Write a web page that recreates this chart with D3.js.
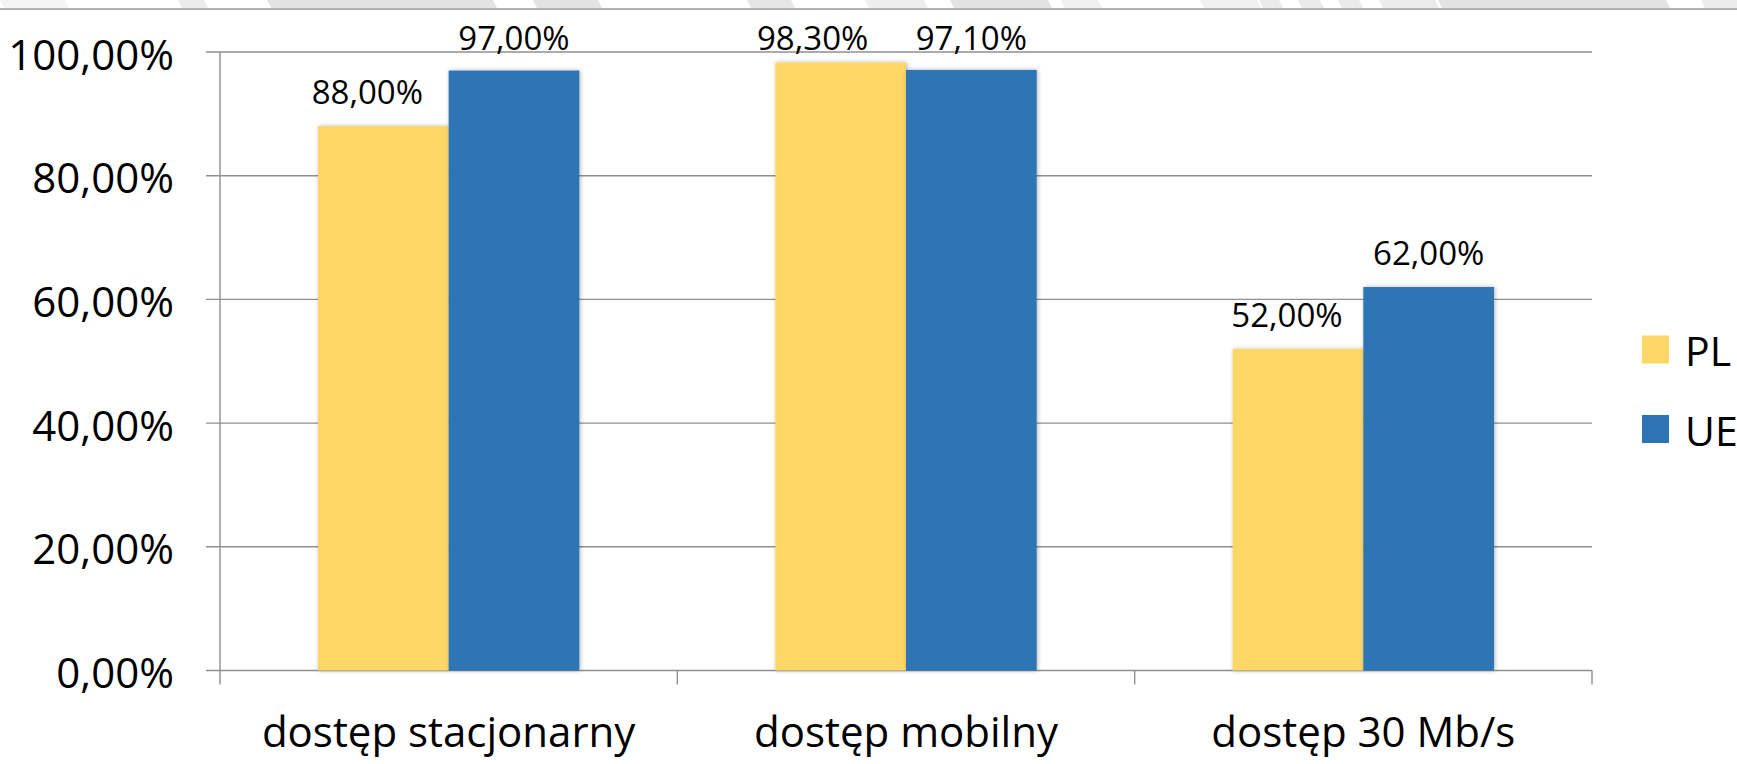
<!DOCTYPE html>
<html>
<head>
<meta charset="utf-8">
<script src="https://cdn.jsdelivr.net/npm/d3@7"></script>
<style>
  html, body { margin: 0; padding: 0; background: #fff; }
  svg { display: block; font-family: "Open Sans", "Noto Sans", sans-serif; }
</style>
</head>
<body>
<svg id="chart" width="1737" height="764"></svg>
<script>
// chart data
const categories = ['dostęp stacjonarny', 'dostęp mobilny', 'dostęp 30 Mb/s'];
const seriesNames = ['PL', 'UE'];
const plValues = [0.88, 0.983, 0.52];
const ueValues = [0.97, 0.971, 0.62];
const yTicks = [0, 0.2, 0.4, 0.6, 0.8, 1.0];

const colors = {PL: '#FDD766', UE: '#2E74B5'};
const gridColor = '#8f8f8f';

// PL labels sit a little left of their bars in the original
const plLabelShift = [-16, -28, -11];

// faded strips of the cropped picture above the top rule
const bannerStrips = [
  [0, 65, '#f3f3f3'], [178, 204, '#ececec'], [267, 493, '#e3e3e3'], [533, 598, '#e3e3e3'],
  [747, 791, '#e6e6e6'], [865, 924, '#eeeeee'], [950, 1048, '#e3e3e3'], [1061, 1098, '#f0f0f0'],
  [1200, 1257, '#f0f0f0'], [1259, 1279, '#eaeaea'], [1298, 1320, '#eaeaea'], [1338, 1359, '#eaeaea'],
  [1379, 1435, '#ececec'], [1438, 1666, '#e3e3e3'], [1701, 1737, '#ececec'],
];

let svg = d3.select('#chart');
let margin = {top: 52, left: 220, right: 1592, bottom: 670.5};

let pl = d3.formatLocale({decimal: ',', thousands: ' ', grouping: [3], currency: ['', ' zł']});
let pct = pl.format('.2%');

let y = d3.scaleLinear().domain([0, 1]).range([margin.bottom, margin.top]);
let x0 = d3.scaleBand().domain(categories).range([margin.left, margin.right]);
// gap width 150% -> 0.75 of a bar on each side
let x1 = d3.scaleBand().domain(seriesNames).range([0, x0.bandwidth()]).paddingOuter(0.75);

let defs = svg.append('defs');
let shadow = defs.append('filter').attr('id', 'barShadow')
    .attr('x', '-10%').attr('y', '-5%').attr('width', '120%').attr('height', '110%');
shadow.append('feDropShadow').attr('dx', 1).attr('dy', 0).attr('stdDeviation', 2)
    .attr('flood-color', '#000').attr('flood-opacity', 0.3);

// top banner remnants
svg.append('g').selectAll('polygon').data(bannerStrips).join('polygon')
    .attr('points', (d) => `${d[0]},0 ${d[1]},0 ${d[1] + 4},8 ${d[0] + 4},8`)
    .attr('fill', (d) => d[2]);
svg.append('line').attr('x1', 0).attr('x2', 1737).attr('y1', 9).attr('y2', 9)
    .attr('stroke', '#9a9a9a').attr('stroke-width', 1.5);

// horizontal gridlines with ticks
let grid = svg.append('g');
grid.selectAll('line').data(yTicks).join('line')
    .attr('x1', margin.left - 14).attr('x2', margin.right)
    .attr('y1', (d) => y(d)).attr('y2', (d) => y(d))
    .attr('stroke', gridColor).attr('stroke-width', 1.4);

// y axis and category separators
let sepX = [margin.left].concat(categories.map((c) => x0(c) + x0.bandwidth()));
svg.append('g').selectAll('line').data(sepX).join('line')
    .attr('x1', (d) => d).attr('x2', (d) => d)
    .attr('y1', (d, i) => (i === 0 ? margin.top : margin.bottom))
    .attr('y2', margin.bottom + 14)
    .attr('stroke', gridColor).attr('stroke-width', 1.4);

// y tick labels
svg.append('g').selectAll('text').data(yTicks).join('text')
    .attr('x', 174).attr('y', (d) => y(d) + 17.5)
    .attr('text-anchor', 'end').attr('font-size', 42).attr('fill', '#000')
    .text((d) => pct(d));

// bars
let rows = categories.map((c, i) => ({cat: c, i: i, PL: plValues[i], UE: ueValues[i]}));
let groups = svg.append('g').selectAll('g').data(rows).join('g')
    .attr('transform', (d) => `translate(${x0(d.cat)},0)`);

groups.selectAll('rect').data((d) => seriesNames.map((s) => ({s: s, v: d[s]}))).join('rect')
    .attr('x', (d) => x1(d.s)).attr('width', x1.bandwidth())
    .attr('y', (d) => y(d.v)).attr('height', (d) => y(0) - y(d.v))
    .attr('fill', (d) => colors[d.s])
    .attr('filter', 'url(#barShadow)');

// data labels, kept inside the plot area at the top
groups.selectAll('text').data((d) => seriesNames.map((s) => ({s: s, v: d[s], i: d.i}))).join('text')
    .attr('x', (d) => x1(d.s) + x1.bandwidth() / 2 + (d.s === 'PL' ? plLabelShift[d.i] : 0))
    .attr('y', (d) => Math.max(y(d.v) - 22, margin.top - 2))
    .attr('text-anchor', 'middle').attr('font-size', 33).attr('fill', '#000')
    .text((d) => pct(d.v));

// category labels
svg.append('g').selectAll('text').data(categories).join('text')
    .attr('x', (d) => x0(d) + x0.bandwidth() / 2).attr('y', 747)
    .attr('text-anchor', 'middle').attr('font-size', 42).attr('fill', '#000')
    .text((d) => d);

// legend
let legend = svg.append('g').selectAll('g').data(seriesNames).join('g')
    .attr('transform', (d, i) => `translate(1642,${349.5 + i * 79.5})`);
legend.append('rect').attr('x', 0).attr('y', -14).attr('width', 27).attr('height', 28)
    .attr('fill', (d) => colors[d]);
legend.append('text').attr('x', 43).attr('y', 16.5)
    .attr('font-size', 41).attr('fill', '#000').text((d) => d);
</script>
</body>
</html>
